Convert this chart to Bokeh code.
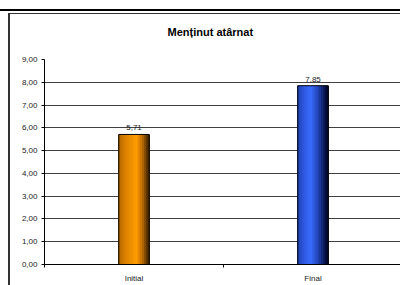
from bokeh.plotting import figure
from bokeh.models import ColumnDataSource, FixedTicker, Range1d
from bokeh.embed import file_html
from bokeh.resources import INLINE

# ---- data ----
title_text = "Menținut atârnat"
categories = ["Initial", "Final"]
values = [5.71, 7.85]
value_labels = ["5,71", "7,85"]
y_ticks = [0, 1, 2, 3, 4, 5, 6, 7, 8, 9]
y_tick_labels = ["0,00", "1,00", "2,00", "3,00", "4,00", "5,00", "6,00", "7,00", "8,00", "9,00"]

# ---- styles ----
FONT = "Liberation Sans"
TXT = "#1a1a1a"
gradients = [
    [(0.0, "#b06400"), (0.25, "#dc8200"), (0.6, "#ff9c00"), (0.8, "#b86a00"), (1.0, "#3c2000")],
    [(0.0, "#1f3fa8"), (0.2, "#2c55dd"), (0.45, "#3a6cff"), (0.7, "#2040b0"), (1.0, "#000424")],
]
BAR_W = 0.17
N_STRIPS = 14


def hex2rgb(h):
    h = h.lstrip("#")
    return [int(h[i:i + 2], 16) for i in (0, 2, 4)]


def grad_color(stops, t):
    for (t0, c0), (t1, c1) in zip(stops[:-1], stops[1:]):
        if t0 <= t <= t1:
            f = (t - t0) / (t1 - t0) if t1 > t0 else 0
            a, b = hex2rgb(c0), hex2rgb(c1)
            return "#%02x%02x%02x" % tuple(int(round(a[i] + (b[i] - a[i]) * f)) for i in range(3))
    return stops[-1][1]


n = len(categories)
centers = [i + 0.5 for i in range(n)]

p = figure(width=400, height=285, output_backend="svg", toolbar_location=None,
           x_range=Range1d(0, n * 356 / 358), y_range=Range1d(0, 9),
           min_border_left=44, min_border_right=0, min_border_top=59, min_border_bottom=20)
p.outline_line_color = None
p.background_fill_color = "white"
p.border_fill_color = None
p.styles = {
    "background": (
        "linear-gradient(#000,#000) 0px 9px / 100% 2px no-repeat, "
        "linear-gradient(#333,#333) 8px 13px / 100% 1px no-repeat, "
        "linear-gradient(#333,#333) 8px 13px / 2px 100% no-repeat, "
        "white"
    )
}

# title
p.title.text = title_text
p.title.align = "left"
p.title.offset = 123
p.title.standoff = 44
p.title.text_font = FONT
p.title.text_font_size = "11px"
p.title.text_font_style = "bold"
p.title.text_color = "black"

# gradient bars built from strips
sx, stop, scol = [], [], []
for i in range(n):
    for k in range(N_STRIPS):
        t = (k + 0.5) / N_STRIPS
        sx.append(centers[i] - BAR_W / 2 + (k + 0.5) * BAR_W / N_STRIPS)
        stop.append(values[i])
        scol.append(grad_color(gradients[i], t))
p.vbar(x=sx, top=stop, bottom=0, width=BAR_W / N_STRIPS * 1.6, fill_color=scol, line_color=None)

src = ColumnDataSource(dict(x=centers, top=values, lab=value_labels))
p.vbar(x="x", top="top", bottom=0, width=BAR_W, source=src, fill_color=None,
       line_color="black", line_width=1)
p.text(x="x", y="top", text="lab", source=src, text_align="center", text_baseline="bottom",
       y_offset=-4, text_font_size="8px", text_color=TXT, text_font={"value": FONT})

# axes
p.yaxis.ticker = FixedTicker(ticks=y_ticks)
p.yaxis.major_label_overrides = {t: l for t, l in zip(y_ticks, y_tick_labels)}
p.yaxis.major_tick_out = 3
p.yaxis.major_tick_in = 0
p.yaxis.minor_tick_line_color = None
p.yaxis.axis_line_color = "black"
p.yaxis.major_tick_line_color = "black"
p.yaxis.major_label_standoff = 4
p.yaxis.major_label_text_font = FONT
p.yaxis.major_label_text_font_size = "8px"
p.yaxis.major_label_text_color = TXT

p.xaxis.ticker = FixedTicker(ticks=centers, minor_ticks=list(range(n + 1)))
p.xaxis.major_label_overrides = {c: l for c, l in zip(centers, categories)}
p.xaxis.major_tick_line_color = None
p.xaxis.major_tick_out = 0
p.xaxis.minor_tick_out = 3
p.xaxis.minor_tick_in = 0
p.xaxis.minor_tick_line_color = "black"
p.xaxis.axis_line_color = "black"
p.xaxis.major_label_standoff = 6
p.xaxis.major_label_text_font = FONT
p.xaxis.major_label_text_font_size = "8px"
p.xaxis.major_label_text_color = TXT

p.xgrid.grid_line_color = None
p.ygrid.ticker = FixedTicker(ticks=y_ticks)
p.ygrid.grid_line_color = "#404040"
p.ygrid.grid_line_width = 1

open("out.html", "w").write(file_html(p, INLINE))
